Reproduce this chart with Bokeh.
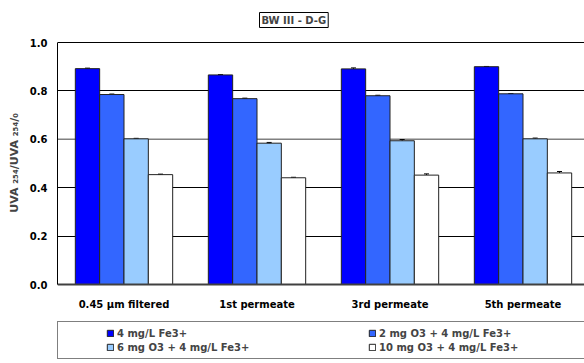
from bokeh.plotting import figure
from bokeh.models import (ColumnDataSource, Whisker, Legend, LegendItem, FixedTicker,
                          NumeralTickFormatter, Span, Range1d, TeeHead, Label)
from bokeh.transform import dodge
from bokeh.embed import file_html
from bokeh.resources import INLINE

# ---------------- data ----------------
categories = ["0.45 µm filtered", "1st permeate", "3rd permeate", "5th permeate"]
series_names = ["4 mg/L Fe3+", "2 mg O3 + 4 mg/L Fe3+",
                "6 mg O3 + 4 mg/L Fe3+", "10 mg O3 + 4 mg/L Fe3+"]
fe_only = [0.892, 0.866, 0.891, 0.900]
o3_2 = [0.785, 0.768, 0.780, 0.788]
o3_6 = [0.602, 0.584, 0.594, 0.602]
o3_10 = [0.454, 0.441, 0.452, 0.461]
err_fe_only = [0.002, 0.001, 0.004, 0.001]
err_o3_2 = [0.002, 0.002, 0.002, 0.001]
err_o3_6 = [0.002, 0.003, 0.005, 0.003]
err_o3_10 = [0.002, 0.002, 0.005, 0.006]
y_ticks = [0.0, 0.2, 0.4, 0.6, 0.8, 1.0]
title_text = "BW III - D-G"
y_label = "UVA ₂₅₄/UVA ₂₅₄/₀"

colors = ["#0000FF", "#3366FF", "#99CCFF", "#FFFFFF"]
series = [fe_only, o3_2, o3_6, o3_10]
errors = [err_fe_only, err_o3_2, err_o3_6, err_o3_10]

FONT = "DejaVu Sans"
bar_w = 0.183
offsets = [-1.5 * bar_w, -0.5 * bar_w, 0.5 * bar_w, 1.5 * bar_w]
xpos = [i + 0.5 for i in range(len(categories))]

# layout (pixels): the frame fills the canvas right of x=57; value 1 at y=42, value 0 at y=284
W, H = 584, 363
left_px, top_px, zero_px = 57, 42, 284
px_per_unit = zero_px - top_px
x_px_per_cat = 133.0
y_low = -(H - zero_px) / px_per_unit
y_high = zero_px / px_per_unit
x_high = (W - left_px) / x_px_per_cat

p = figure(width=W, height=H, x_range=Range1d(0, x_high), y_range=Range1d(y_low, y_high),
           output_backend="svg", toolbar_location=None,
           min_border_left=left_px, min_border_right=0, min_border_top=0, min_border_bottom=0)
p.title.visible = False
try:
    p.title_location = None
except Exception:
    pass
p.outline_line_color = None
p.background_fill_color = "white"
p.border_fill_color = "white"

# boxed title (placed by pixel layout, converted through the ranges)
title_left_px, title_bottom_px = 259, 27
title = Label(x=(title_left_px - left_px) / x_px_per_cat,
              y=(zero_px - title_bottom_px) / px_per_unit,
              text=title_text, text_font=FONT, text_font_size="10px",
              text_font_style="bold", text_align="left", text_baseline="bottom",
              border_line_color="black", border_line_width=1,
              background_fill_color="white")
if "padding" in title.properties():
    title.padding = 2
p.add_layout(title)

# grid
p.xgrid.grid_line_color = None
p.ygrid.ticker = FixedTicker(ticks=y_ticks)
p.ygrid.grid_line_color = "black"
p.ygrid.grid_line_width = 1
p.add_layout(Span(location=y_ticks[3], dimension="width", line_color="#808080",
                  line_width=1.5, level="underlay"))

renderers = []
for k, (vals, errs) in enumerate(zip(series, errors)):
    src = ColumnDataSource(dict(x=xpos, top=vals,
                                upper=[v + e for v, e in zip(vals, errs)],
                                lower=[v - e for v, e in zip(vals, errs)]))
    r = p.vbar(x=dodge("x", offsets[k]), top="top", width=bar_w, bottom=0, source=src,
               fill_color=colors[k], line_color="#222222", line_width=1)
    renderers.append(r)
    w = Whisker(base=dodge("x", offsets[k]), upper="upper", lower="lower", source=src,
                line_color="black", line_width=1,
                upper_head=TeeHead(size=5, line_color="black", line_width=1),
                lower_head=TeeHead(size=5, line_color="black", line_width=1))
    p.add_layout(w)

# axes
yax = p.yaxis[0]
yax.ticker = FixedTicker(ticks=y_ticks)
yax.bounds = (y_ticks[0], y_ticks[-1])
yax.formatter = NumeralTickFormatter(format="0.0")
yax.major_tick_out = 0
yax.major_tick_in = 0
yax.minor_tick_out = 0
yax.minor_tick_in = 0
yax.major_label_standoff = 10
yax.major_label_text_font = FONT
yax.major_label_text_font_style = "bold"
yax.major_label_text_font_size = "10px"
yax.major_label_text_color = "black"
yax.axis_line_color = "black"
yax.axis_line_width = 1
# leading no-break spaces lift the centred label to the middle of the 0..1 span
yax.axis_label = "\u00a0" * 10 + y_label
yax.axis_label_text_font = FONT
yax.axis_label_text_font_style = "bold"
yax.axis_label_text_font_size = "11px"
yax.axis_label_standoff = 6

xax = p.xaxis[0]
xax.fixed_location = 0
xax.ticker = FixedTicker(ticks=xpos)
xax.major_label_overrides = {x: c for x, c in zip(xpos, categories)}
xax.major_tick_out = 0
xax.major_tick_in = 0
xax.minor_tick_out = 0
xax.minor_tick_in = 0
xax.major_label_standoff = 14
xax.major_label_text_font = FONT
xax.major_label_text_font_style = "bold"
xax.major_label_text_font_size = "10px"
xax.major_label_text_color = "black"
xax.axis_line_color = "#404040"
xax.axis_line_width = 2

legend = Legend(items=[LegendItem(label=n, renderers=[r]) for n, r in zip(series_names, renderers)],
                orientation="horizontal", ncols=2, location=(0, 4), margin=0,
                padding=5, spacing=2, label_width=249, label_height=12,
                glyph_width=8, glyph_height=8, label_standoff=3,
                border_line_color="black", border_line_width=1,
                background_fill_color="white",
                label_text_font=FONT, label_text_font_size="10px",
                label_text_font_style="bold",
                title=" ", title_location="left", title_standoff=32,
                title_text_font_size="10px")
p.add_layout(legend, "center")

open("out.html", "w").write(file_html(p, INLINE))
